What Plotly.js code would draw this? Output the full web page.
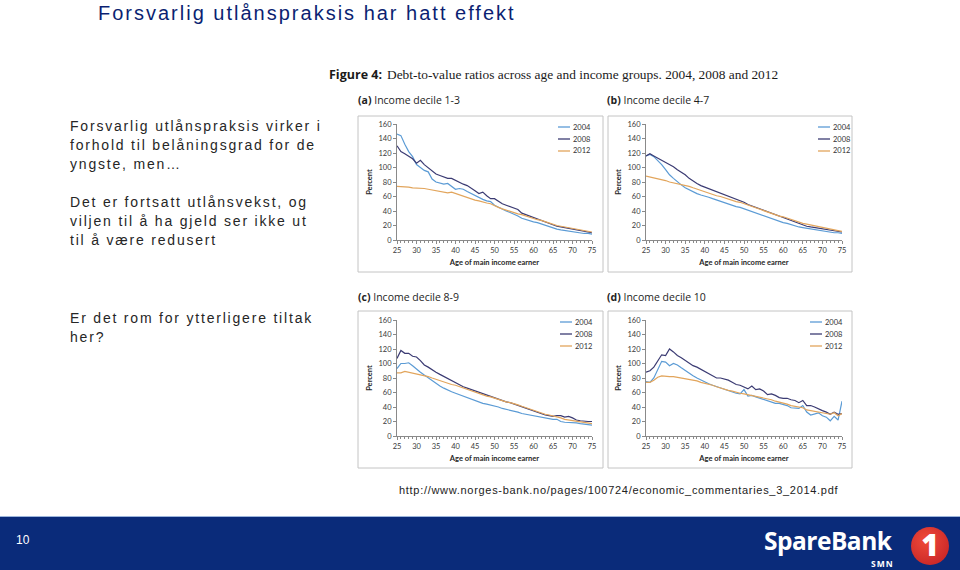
<!DOCTYPE html>
<html><head><meta charset="utf-8">
<script src="https://cdn.plot.ly/plotly-3.0.1.min.js"></script>
<style>
html,body{margin:0;padding:0;background:#fff;}
#wrap{position:relative;width:960px;height:570px;overflow:hidden;background:#fff;}
#chart{position:absolute;left:0;top:0;width:960px;height:570px;}
.ov{position:absolute;white-space:nowrap;pointer-events:none;font-family:"Liberation Sans",Arial,sans-serif;}
</style></head><body>
<div id="wrap">
<div id="chart"></div>
<div class="ov" style="left:98px;top:1px;font-size:20px;line-height:24px;letter-spacing:2px;color:#0b1f72;">Forsvarlig utlånspraksis har hatt effekt</div>
<div class="ov" style="left:70px;top:117px;font-size:14px;line-height:19px;letter-spacing:1.8px;color:#262626;">Forsvarlig utlånspraksis virker i<br>forhold til belåningsgrad for de<br>yngste, men…</div>
<div class="ov" style="left:70px;top:193px;font-size:14px;line-height:19px;letter-spacing:1.8px;color:#262626;">Det er fortsatt utlånsvekst, og<br>viljen til å ha gjeld ser ikke ut<br>til å være redusert</div>
<div class="ov" style="left:70px;top:309px;font-size:14px;line-height:19px;letter-spacing:1.8px;color:#262626;">Er det rom for ytterligere tiltak<br>her?</div>
<div class="ov" style="left:399px;top:483px;font-size:11px;line-height:14px;letter-spacing:0.7px;color:#222;">http://www.norges-bank.no/pages/100724/economic_commentaries_3_2014.pdf</div>
<div class="ov" style="left:0;top:516px;width:960px;height:1px;background:#9db6dc;"></div>
<div class="ov" style="left:0;top:517px;width:960px;height:53px;background:#0a2b7a;"></div>
<div class="ov" style="left:16px;top:533px;font-size:12px;line-height:14px;color:#fff;">10</div>
<div class="ov" style="left:764px;top:529px;font-family:'Open Sans',sans-serif;font-weight:700;font-size:24.5px;line-height:23px;letter-spacing:-0.5px;color:#fff;">SpareBank</div>
<div class="ov" style="left:871px;top:559px;font-family:'Open Sans',sans-serif;font-weight:700;font-size:8.5px;line-height:9px;letter-spacing:1px;color:#fff;">SMN</div>
<div class="ov" style="left:911px;top:527px;width:38px;height:38px;border-radius:50%;background:radial-gradient(circle at 40% 35%,#f04a3a,#c01e22);"></div>
<div class="ov" style="left:911px;top:525px;width:38px;text-align:center;font-family:'Open Sans',sans-serif;font-weight:800;font-size:30px;line-height:40px;color:#fff;">1</div>
</div>
<script>
const ages = [25,26,27,28,29,30,31,32,33,34,35,36,37,38,39,40,41,42,43,44,45,46,47,48,49,50,51,52,53,54,55,56,57,58,59,60,61,62,63,64,65,66,67,68,69,70,71,72,73,74,75];
const years = ['2004','2008','2012'];
const xTicks = [25,30,35,40,45,50,55,60,65,70,75];
const yTicks = [0,20,40,60,80,100,120,140,160];
const panelTitles = ['Income decile 1-3','Income decile 4-7','Income decile 8-9','Income decile 10'];
const panelLetters = ['(a)','(b)','(c)','(d)'];
const captionBold = 'Figure 4:';
const captionText = 'Debt-to-value ratios across age and income groups. 2004, 2008 and 2012';
const xTitle = 'Age of main income earner';
const yTitle = 'Percent';

// (a) Income decile 1-3
const a2004 = [146,144,132,122,115,104,100,96,94,84, 80,79,77,78,74,70,71,70,67,64, 61,59,56,54,53,48,45,42,40,38, 36,33,30,28,27,25,24,22,21,19, 17,15,14,13,12,11,10,10,9,9,8];
const a2008 = [130,122,119,116,112,106,110,104,100,96, 91,89,87,85,85,82,79,77,75,72, 68,64,66,61,57,57,53,50,48,46, 44,42,37,35,33,30,29,27,25,23, 21,19,18,17,16,15,14,13,12,11,10];
const a2012 = [74,74,73,73,72,72,72,71,70,69, 68,67,66,65,66,64,62,61,59,57, 55,54,52,51,50,47,45,43,41,39, 37,36,35,33,31,29,28,27,25,23, 21,20,19,18,17,16,15,14,13,12,11];
// (b) Income decile 4-7
const b2004 = [116,118,115,110,104,97,90,85,80,76, 72,69,66,64,62,61,59,57,55,53, 51,49,48,46,45,43,41,39,37,35, 33,31,29,27,26,24,23,21,20,18, 17,16,15,14,13,12,11,11,10,10,9];
const b2008 = [116,119,116,113,110,108,104,101,97,94, 90,85,81,78,75,73,71,68,66,64, 62,60,58,56,54,52,49,47,45,43, 41,38,36,34,32,30,28,26,24,22, 21,19,18,17,16,15,14,13,12,11,11];
const b2012 = [88,87,85,84,83,82,80,79,78,76, 75,74,72,70,69,67,65,63,61,60, 58,56,55,53,52,50,48,46,45,43, 41,39,37,35,33,32,30,28,27,25, 23,22,21,20,19,17,16,15,14,13,12];
// (c) Income decile 8-9
const c2004 = [93,100,100,101,97,92,88,84,80,76, 72,69,66,63,61,59,57,54,52,50, 49,47,45,44,43,42,40,38,37,36, 35,33,31,30,29,27,26,25,25,24, 23,23,20,19,19,18,18,17,16,15,15];
const c2008 = [107,118,114,114,110,109,104,98,95,91, 88,85,82,79,76,73,71,68,66,64, 62,60,58,56,54,52,51,49,47,46, 44,42,40,38,36,34,32,30,29,28, 27,28,28,26,27,25,22,21,20,20,20];
const c2012 = [87,87,89,88,87,86,85,84,82,80, 78,76,74,73,71,70,68,66,64,63, 61,59,57,55,54,52,50,48,47,46, 45,43,41,39,38,36,33,31,30,29, 28,27,25,23,22,22,21,20,19,18,17];
// (d) Income decile 10
const d2004 = [75,74,80,92,103,102,97,100,98,94, 90,86,83,80,77,75,72,70,68,66, 65,63,61,59,58,64,55,56,54,52, 50,48,46,45,45,44,42,39,38,38, 42,33,29,31,32,28,26,21,27,22,48];
const d2008 = [88,90,95,103,112,111,120,116,111,108, 104,100,97,95,92,90,86,84,80,80, 79,77,74,71,70,68,65,69,64,65, 62,57,58,56,53,52,52,50,49,46, 49,42,42,40,37,35,33,30,33,30,31];
const d2012 = [74,74,77,81,83,82,82,82,81,81, 80,79,77,76,74,73,71,70,68,66, 65,63,62,60,59,58,57,56,55,54, 52,51,50,48,47,46,44,42,41,40, 39,36,35,34,33,32,31,30,32,28,31];

const panels = [[a2004,a2008,a2012],[b2004,b2008,b2012],[c2004,c2008,c2012],[d2004,d2008,d2012]];
const colors = ['#5b9bd5','#3b3b73','#e2a55c'];

const W = 960, H = 570;
const px = v => v / W, py = v => 1 - v / H;
// plot areas in pixels [left,right,top,bottom]
const areas = [[397,592,124,240],[646,842,124,240],[397,592,320,436],[646,842,320,436]];
const frames = [[358,116,603,272],[608,116,852,272],[358,311,603,468],[608,311,852,468]];
const titlePos = [[356,100],[605,100],[356,297],[605,297]];
const legendPos = [[558,127],[818,127],[560,322],[810,322]];

const tickFont = {family:'Lato, "Open Sans", sans-serif', size:7.5, color:'#3a3a3a'};
const traces = [], annotations = [], shapes = [];
const layout = {width:W, height:H, margin:{l:0,r:0,t:0,b:0}, paper_bgcolor:'rgba(0,0,0,0)', plot_bgcolor:'rgba(0,0,0,0)', showlegend:false};

panels.forEach((series, p) => {
  const k = p === 0 ? '' : String(p + 1);
  const [l, r, t, b] = areas[p];
  layout['xaxis' + k] = {
    domain:[px(l), px(r)], anchor:'y' + k, range:[25,75], tickvals:xTicks,
    showline:true, linecolor:'#8a8a8a', linewidth:1, ticks:'outside', ticklen:3, tickcolor:'#8a8a8a',
    minor:{dtick:1, tick0:25, ticks:'outside', ticklen:2, tickcolor:'#8a8a8a', showgrid:false},
    showgrid:false, zeroline:false, tickfont:tickFont,
    title:{text:xTitle, font:{family:'Lato, "Open Sans", sans-serif', size:7.5, color:'#262626', weight:700}, standoff:5}
  };
  layout['yaxis' + k] = {
    domain:[py(b), py(t)], anchor:'x' + k, range:[0,160], tickvals:yTicks,
    showline:true, linecolor:'#8a8a8a', linewidth:1, ticks:'outside', ticklen:3, tickcolor:'#8a8a8a',
    showgrid:false, zeroline:false, tickfont:tickFont,
    title:{text:yTitle, font:{family:'Lato, "Open Sans", sans-serif', size:7.5, color:'#262626', weight:700}, standoff:4}
  };
  series.forEach((vals, s) => {
    traces.push({x:ages, y:vals, type:'scatter', mode:'lines', name:years[s],
      xaxis:'x' + k, yaxis:'y' + k, line:{color:colors[s], width:1.2}, hoverinfo:'x+y+name'});
  });
  const f = frames[p];
  shapes.push({type:'rect', xref:'paper', yref:'paper', x0:px(f[0]), x1:px(f[2]), y0:py(f[3]), y1:py(f[1]),
    line:{color:'#c4c4c4', width:1}, fillcolor:'rgba(0,0,0,0)', layer:'below'});
  annotations.push({xref:'paper', yref:'paper', x:px(titlePos[p][0]), y:py(titlePos[p][1]), xanchor:'left', yanchor:'middle',
    showarrow:false, text:'<b>' + panelLetters[p] + '</b> ' + panelTitles[p],
    font:{family:'"Open Sans", sans-serif', size:10.5, color:'#1e1e1e'}});
  const [lx, ly] = legendPos[p];
  years.forEach((yr, s) => {
    const yy = ly + s * 12;
    shapes.push({type:'line', xref:'paper', yref:'paper', x0:px(lx), x1:px(lx + 12), y0:py(yy), y1:py(yy),
      line:{color:colors[s], width:1.3}});
    annotations.push({xref:'paper', yref:'paper', x:px(lx + 13), y:py(yy), xanchor:'left', yanchor:'middle',
      showarrow:false, text:yr, font:{family:'Lato, "Open Sans", sans-serif', size:7.5, color:'#333'}});
  });
});

annotations.push({xref:'paper', yref:'paper', x:px(327), y:py(75), xanchor:'left', yanchor:'middle', showarrow:false,
  text:'<b>' + captionBold + '</b>', font:{family:'"Open Sans", sans-serif', size:12.5, color:'#1a1a1a'}});
annotations.push({xref:'paper', yref:'paper', x:px(385), y:py(75), xanchor:'left', yanchor:'middle', showarrow:false,
  text:captionText, font:{family:'"Liberation Serif", "DejaVu Serif", serif', size:13.4, color:'#1a1a1a'}});

layout.annotations = annotations;
layout.shapes = shapes;
Plotly.newPlot('chart', traces, layout, {displayModeBar:false, staticPlot:true});
</script>
</body></html>
